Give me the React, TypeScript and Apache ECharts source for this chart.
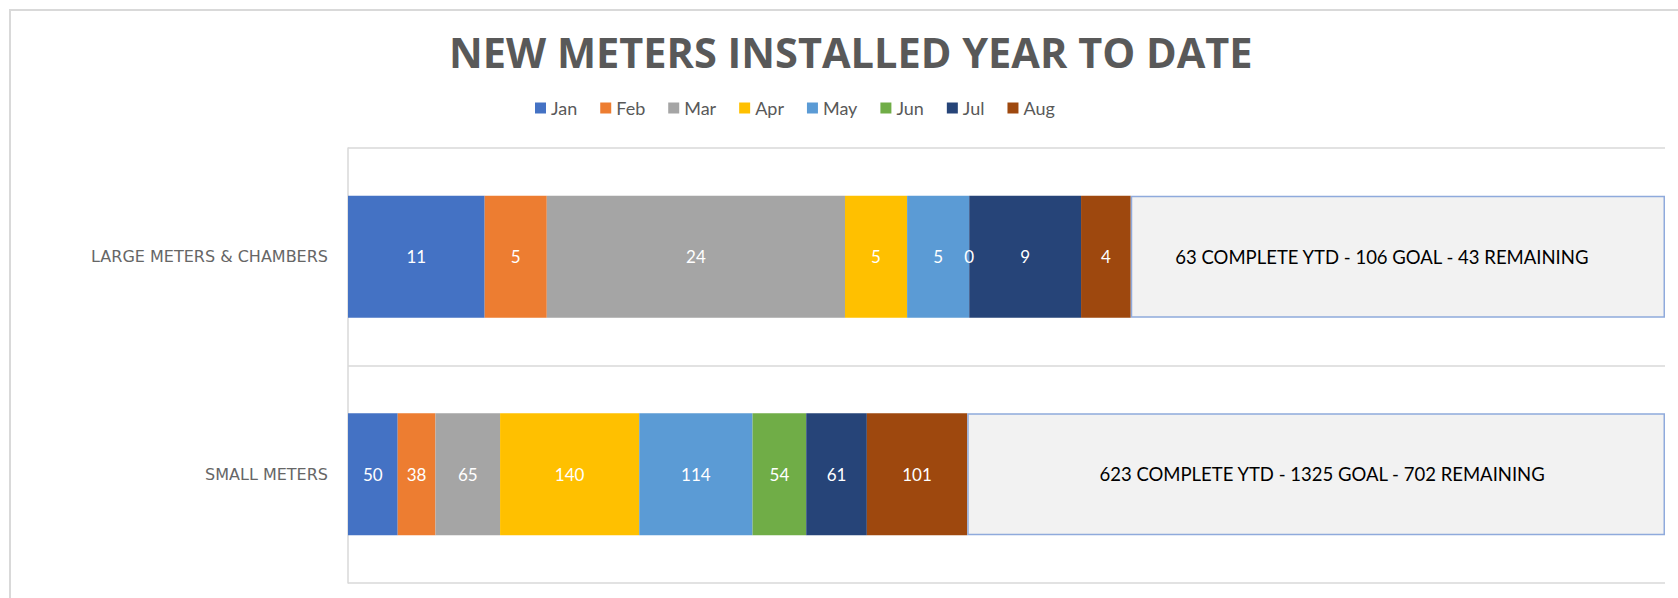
import React, { useEffect, useRef } from "react";
import * as echarts from "echarts";

const categories = ["LARGE METERS & CHAMBERS", "SMALL METERS"];
const months = ["Jan", "Feb", "Mar", "Apr", "May", "Jun", "Jul", "Aug"];
const largeMeters = [11, 5, 24, 5, 5, 0, 9, 4];
const smallMeters = [50, 38, 65, 140, 114, 54, 61, 101];
const goals = [106, 1325];
const monthColors = ["#4472C4", "#ED7D31", "#A5A5A5", "#FFC000", "#5B9BD5", "#70AD47", "#264478", "#9E480E"];
const titleText = "NEW METERS INSTALLED YEAR TO DATE";

export default function App() {
  const ref = useRef<HTMLDivElement>(null);
  useEffect(() => {
    document.body.style.margin = "0";
    const chart = echarts.init(ref.current!, null, { renderer: "svg" });
    const rows = [largeMeters, smallMeters];
    const completes = rows.map((r) => r.reduce((a, b) => a + b, 0));
    const remaining = goals.map((g, i) => g - completes[i]);
    const summaryOffsets = [[-16, 0], [6, 0]];

    const series: any[] = months.map((m, mi) => ({
      name: m,
      type: "bar",
      stack: "total",
      barWidth: 122,
      itemStyle: { color: monthColors[mi] },
      label: {
        show: true,
        position: "inside",
        color: "#ffffff",
        fontFamily: "Lato",
        fontSize: 17,
        formatter: (p: any) => String(rows[p.dataIndex][mi]),
      },
      data: rows.map((r, ri) => (r[mi] / goals[ri]) * 100),
    }));
    series.push({
      name: "Remaining",
      type: "bar",
      stack: "total",
      barWidth: 122,
      itemStyle: { color: "#F2F2F2", borderColor: "#8FAADC", borderWidth: 1.5 },
      label: {
        show: true,
        position: "inside",
        color: "#000000",
        fontFamily: "Lato",
        fontSize: 18.5,
        formatter: (p: any) =>
          `${completes[p.dataIndex]} COMPLETE YTD - ${goals[p.dataIndex]} GOAL - ${remaining[p.dataIndex]} REMAINING`,
      },
      data: remaining.map((r, i) => ({
        value: (r / goals[i]) * 100,
        label: { offset: summaryOffsets[i] },
      })),
    });

    chart.setOption({
      animation: false,
      backgroundColor: "#ffffff",
      title: {
        text: titleText,
        left: 449,
        top: 31,
        padding: 0,
        textStyle: { fontFamily: "Open Sans", fontWeight: "bold", fontSize: 41.5, color: "#595959" },
      },
      legend: {
        data: months,
        left: 535,
        top: 99,
        padding: 0,
        itemWidth: 11,
        itemHeight: 11,
        itemGap: 23,
        icon: "rect",
        textStyle: { fontFamily: "Lato", fontSize: 18, color: "#595959" },
      },
      graphic: [
        {
          type: "rect",
          shape: { x: 10, y: 10, width: 1720, height: 700 },
          style: { fill: "none", stroke: "#D9D9D9", lineWidth: 2 },
          z: -10,
          silent: true,
        },
      ],
      grid: { left: 348, right: 13, top: 148, bottom: 15 },
      xAxis: { type: "value", min: 0, max: 100, show: false },
      yAxis: {
        type: "category",
        data: categories,
        inverse: true,
        axisLine: { show: true, lineStyle: { color: "#D9D9D9", width: 1.5 } },
        axisTick: { show: false },
        splitLine: { show: true, lineStyle: { color: "#D9D9D9", width: 1.5 } },
        axisLabel: { margin: 20, fontFamily: "DejaVu Sans", fontSize: 16, color: "#666666" },
      },
      series,
    });
    return () => chart.dispose();
  }, []);
  return <div ref={ref} style={{ width: 1678, height: 598 }} />;
}
